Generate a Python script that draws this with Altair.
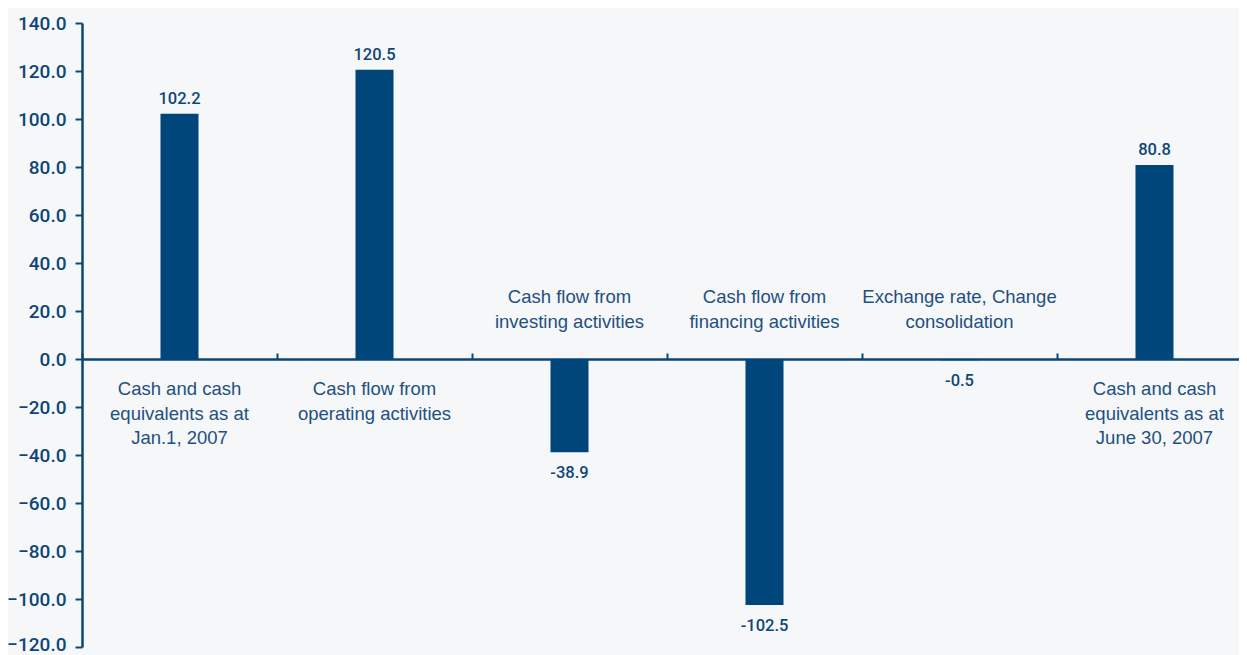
import altair as alt
import pandas as pd

categories = [
    "Cash and cash\nequivalents as at\nJan.1, 2007",
    "Cash flow from\noperating activities",
    "Cash flow from\ninvesting activities",
    "Cash flow from\nfinancing activities",
    "Exchange rate, Change\nconsolidation",
    "Cash and cash\nequivalents as at\nJune 30, 2007",
]
values = [102.2, 120.5, -38.9, -102.5, -0.5, 80.8]
y_ticks = [-120, -100, -80, -60, -40, -20, 0, 20, 40, 60, 80, 100, 120, 140]

df = pd.DataFrame({"cat": categories, "value": values})
df["label"] = df["value"].map(lambda v: f"{v:.1f}")

BAR = "#00467a"
AXIS = "#0a4777"
TXT = "#1f5080"
NUM = "#0f4677"
FONT = "Roboto"
CAT_FONT = "Liberation Sans"

x = alt.X(
    "cat:N",
    sort=None,
    scale=alt.Scale(paddingInner=0, paddingOuter=0, range=[0, 1170]),
    axis=alt.Axis(
        orient="top",
        offset=-336,
        labels=False,
        title=None,
        domainColor=AXIS,
        domainWidth=2.5,
        tickColor=AXIS,
        tickWidth=2,
        tickSize=6,
        bandPosition=0,
        grid=False,
    ),
)
y = alt.Y(
    "value:Q",
    scale=alt.Scale(domain=[-120, 140], nice=False, zero=False),
    axis=alt.Axis(
        values=y_ticks,
        format=".1f",
        title=None,
        grid=False,
        domainColor=AXIS,
        domainWidth=2.5,
        tickColor=AXIS,
        tickWidth=2,
        tickSize=7,
        labelPadding=9,
        labelFont=FONT,
        labelFontSize=19,
        labelFontWeight=500,
        labelColor=NUM,
        labelBaseline="middle",
        labelOffset={
            "condition": {"test": "datum.value < -110", "value": -3},
            "value": 0,
        },
    ),
)

base = alt.Chart(df)
bars = base.mark_bar(size=38, color=BAR).encode(x=x, y=y)

pos = base.transform_filter("datum.value >= 0")
neg = base.transform_filter("datum.value < 0")

xs = alt.X("cat:N", sort=None)

val_pos = pos.mark_text(
    baseline="alphabetic", dy=-10, font=FONT, fontSize=16.5, fontWeight=500, color=NUM
).encode(x=xs, y="value:Q", text="label:N")
val_neg = neg.mark_text(
    baseline="top", dy=13, font=FONT, fontSize=16.5, fontWeight=500, color=NUM
).encode(x=xs, y="value:Q", text="label:N")

cat_pos = pos.mark_text(
    baseline="top", dy=21, lineBreak="\n", lineHeight=24.5, font=CAT_FONT, fontSize=18.5, color=TXT
).encode(x=xs, y=alt.datum(0), text="cat:N")
cat_neg = neg.mark_text(
    baseline="bottom", dy=-52, lineBreak="\n", lineHeight=24.5, font=CAT_FONT, fontSize=18.5, color=TXT
).encode(x=xs, y=alt.datum(0), text="cat:N")

chart = (
    alt.layer(bars, val_pos, val_neg, cat_pos, cat_neg)
    .properties(
        width=1157,
        height=624,
        background="#f5f7f9",
        autosize=alt.AutoSizeParams(type="none"),
        padding={"left": 74, "top": 15, "right": 0, "bottom": 10},
    )
    .configure_view(stroke=None, clip=False)
)

chart.save("out.html", embed_options={"renderer": "svg", "actions": False})
